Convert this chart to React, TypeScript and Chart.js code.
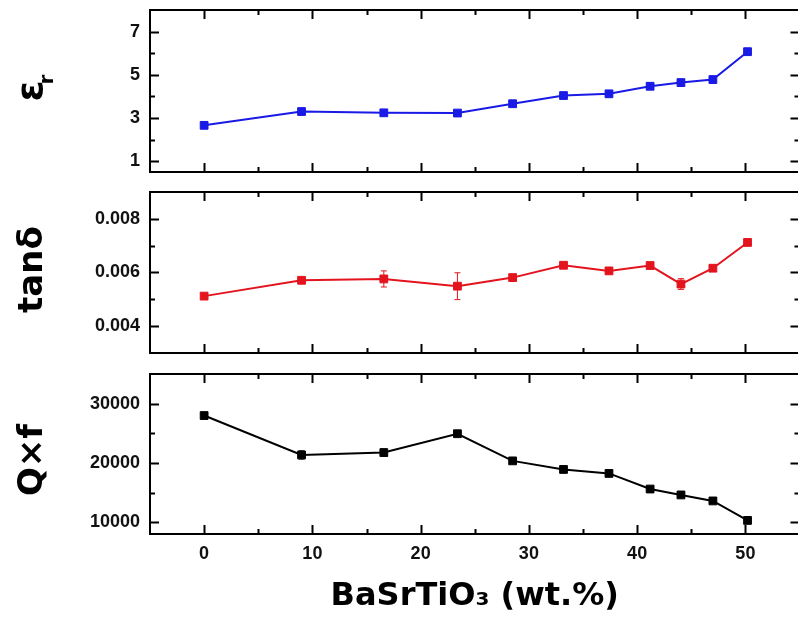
import React, { useEffect, useRef } from "react";
import { Chart, registerables } from "chart.js";

Chart.register(...registerables);

// ---- data ----
const xValues = [0, 9.0, 16.6, 23.4, 28.5, 33.2, 37.4, 41.2, 44.05, 47.0, 50.2];

const epsValues = [2.66, 3.3, 3.24, 3.23, 3.66, 4.04, 4.12, 4.47, 4.64, 4.78, 6.07];
const epsErrors = [0.05, 0.06, 0.05, 0.06, 0.05, 0.05, 0.05, 0.05, 0.05, 0.05, 0.15];

const tanValues = [0.00512, 0.00571, 0.00576, 0.00549, 0.00581, 0.00627, 0.00606, 0.00626, 0.00557, 0.00616, 0.00712];
const tanErrors = [0.00005, 0.00008, 0.0003, 0.0005, 0.0001, 0.00005, 0.00005, 0.00005, 0.0002, 0.0001, 0.0001];

const qfValues = [27990, 21340, 21740, 24920, 20340, 18890, 18220, 15590, 14590, 13580, 10290];
const qfErrors = [300, 700, 600, 300, 200, 200, 200, 200, 200, 200, 300];

const xMajorTicks = [0, 10, 20, 30, 40, 50];
const xMinorTicks = [5, 15, 25, 35, 45];
const epsMajorTicks = [1, 3, 5, 7];
const epsMinorTicks = [2, 4, 6];
const tanMajorTicks = [0.004, 0.006, 0.008];
const tanMinorTicks = [0.005, 0.007];
const qfMajorTicks = [10000, 20000, 30000];
const qfMinorTicks = [15000, 25000];

const epsTitle = "ε";
const epsTitleSub = "r";
const tanTitle = "tanδ";
const qfTitle = "Q×f";
const xTitle = "BaSrTiO₃ (wt.%)";

type Panel = {
  values: number[];
  errors: number[];
  color: string;
  yMin: number;
  yMax: number;
  major: number[];
  minor: number[];
  decimals: number;
  title: string;
  sub?: string;
  titleSize: number;
  titleDy: number;
  showX: boolean;
  top: number;
  height: number;
};

const panels: Panel[] = [
  {
    values: epsValues, errors: epsErrors, color: "#1a1ae6",
    yMin: 0.5, yMax: 8, major: epsMajorTicks, minor: epsMinorTicks, decimals: 0,
    title: epsTitle, sub: epsTitleSub, titleSize: 38, titleDy: 0,
    showX: false, top: 0, height: 182,
  },
  {
    values: tanValues, errors: tanErrors, color: "#e3141e",
    yMin: 0.003, yMax: 0.009, major: tanMajorTicks, minor: tanMinorTicks, decimals: 3,
    title: tanTitle, titleSize: 34, titleDy: -3,
    showX: false, top: 182, height: 181,
  },
  {
    values: qfValues, errors: qfErrors, color: "#000000",
    yMin: 8000, yMax: 35000, major: qfMajorTicks, minor: qfMinorTicks, decimals: 0,
    title: qfTitle, titleSize: 34, titleDy: 6,
    showX: true, top: 364, height: 264,
  },
];

const TICK_FONT = { family: "'Liberation Sans', Arial, sans-serif", size: 18, weight: "bold" as const };

function makePlugin(p: Panel) {
  return {
    id: "frameAndErrors",
    beforeDatasetsDraw(chart: any) {
      const { ctx, chartArea: a, scales } = chart;
      const xs = scales.x;
      const ys = scales.y;
      ctx.save();
      // error bars
      ctx.strokeStyle = p.color;
      ctx.lineWidth = 1;
      for (let i = 0; i < xValues.length; i++) {
        const px = xs.getPixelForValue(xValues[i]);
        const y1 = ys.getPixelForValue(p.values[i] - p.errors[i]);
        const y2 = ys.getPixelForValue(p.values[i] + p.errors[i]);
        ctx.beginPath();
        ctx.moveTo(px, y1);
        ctx.lineTo(px, y2);
        ctx.moveTo(px - 3, y1);
        ctx.lineTo(px + 3, y1);
        ctx.moveTo(px - 3, y2);
        ctx.lineTo(px + 3, y2);
        ctx.stroke();
      }
      // frame
      ctx.strokeStyle = "#000";
      ctx.lineWidth = 2;
      ctx.strokeRect(a.left, a.top, a.right - a.left, a.bottom - a.top);
      // inward ticks
      const xt = (vals: number[], len: number) => {
        for (const v of vals) {
          const px = Math.round(xs.getPixelForValue(v)) + 0.5;
          ctx.beginPath();
          ctx.moveTo(px, a.bottom);
          ctx.lineTo(px, a.bottom - len);
          ctx.moveTo(px, a.top);
          ctx.lineTo(px, a.top + len);
          ctx.stroke();
        }
      };
      const yt = (vals: number[], len: number) => {
        for (const v of vals) {
          const py = Math.round(ys.getPixelForValue(v)) + 0.5;
          ctx.beginPath();
          ctx.moveTo(a.left, py);
          ctx.lineTo(a.left + len, py);
          ctx.moveTo(a.right, py);
          ctx.lineTo(a.right - len, py);
          ctx.stroke();
        }
      };
      xt(xMajorTicks, 9);
      xt(xMinorTicks, 5);
      yt(p.major, 9);
      yt(p.minor, 5);
      ctx.restore();
    },
    afterDraw(chart: any) {
      const { ctx, chartArea: a } = chart;
      const cy = (a.top + a.bottom) / 2 + p.titleDy;
      const baseX = 42;
      ctx.save();
      ctx.translate(baseX, cy);
      ctx.rotate(-Math.PI / 2);
      ctx.fillStyle = "#000";
      ctx.textBaseline = "alphabetic";
      ctx.font = `bold ${p.titleSize}px 'DejaVu Sans', sans-serif`;
      if (p.sub) {
        const w = ctx.measureText(p.title).width;
        ctx.textAlign = "center";
        ctx.fillText(p.title, 0, 0);
        ctx.font = `bold 20px 'DejaVu Sans', sans-serif`;
        ctx.textAlign = "left";
        ctx.fillText(p.sub, w / 2 - 4, 11);
      } else {
        ctx.textAlign = "center";
        ctx.fillText(p.title, 0, 0);
      }
      ctx.restore();
    },
  };
}

function PanelChart({ p }: { p: Panel }) {
  const ref = useRef<HTMLCanvasElement>(null);
  useEffect(() => {
    if (!ref.current) return;
    const chart = new Chart(ref.current, {
      type: "line",
      data: {
        datasets: [
          {
            data: xValues.map((x, i) => ({ x, y: p.values[i] })),
            borderColor: p.color,
            backgroundColor: p.color,
            borderWidth: 2,
            pointStyle: "rect",
            pointRadius: 5.5,
            pointBorderWidth: 1,
            pointBackgroundColor: p.color,
            pointBorderColor: p.color,
            tension: 0,
          },
        ],
      },
      options: {
        animation: false,
        responsive: true,
        maintainAspectRatio: false,
        layout: { padding: { top: 10, bottom: p.showX ? 0 : 10, left: 0, right: 4 } },
        plugins: { legend: { display: false }, tooltip: { enabled: false } },
        events: [],
        scales: {
          x: {
            type: "linear",
            min: -5,
            max: 55,
            display: p.showX,
            grid: { display: false, drawTicks: false },
            border: { display: false },
            afterBuildTicks: (s: any) => {
              s.ticks = xMajorTicks.map((v) => ({ value: v }));
            },
            afterFit: (s: any) => {
              s.height = p.showX ? 94 : 0;
              s.paddingLeft = 0;
              s.paddingRight = 0;
            },
            ticks: {
              padding: 9,
              color: "#111",
              font: TICK_FONT,
              maxRotation: 0,
              autoSkip: false,
              callback: (v: any) => String(v),
            },
            title: {
              display: p.showX,
              text: xTitle,
              color: "#000",
              font: { family: "'DejaVu Sans', sans-serif", size: 32, weight: "bold" },
              padding: { top: 0, bottom: 12 },
            },
          },
          y: {
            type: "linear",
            min: p.yMin,
            max: p.yMax,
            grid: { display: false, drawTicks: false },
            border: { display: false },
            afterBuildTicks: (s: any) => {
              s.ticks = p.major.map((v) => ({ value: v }));
            },
            afterFit: (s: any) => {
              s.width = 150;
              s.paddingTop = 0;
              s.paddingBottom = 0;
            },
            ticks: {
              padding: 10,
              color: "#111",
              font: TICK_FONT,
              autoSkip: false,
              callback: (v: any) => Number(v).toFixed(p.decimals),
            },
          },
        },
      },
      plugins: [makePlugin(p)],
    } as any);
    return () => chart.destroy();
  }, [p]);
  return (
    <div style={{ position: "absolute", left: 0, top: p.top, width: 806, height: p.height }}>
      <canvas ref={ref} />
    </div>
  );
}

export default function App() {
  return (
    <div
      style={{
        position: "absolute",
        left: 0,
        top: 0,
        width: 798,
        height: 628,
        overflow: "hidden",
        background: "#fff",
      }}
    >
      {panels.map((p, i) => (
        <PanelChart key={i} p={p} />
      ))}
    </div>
  );
}
